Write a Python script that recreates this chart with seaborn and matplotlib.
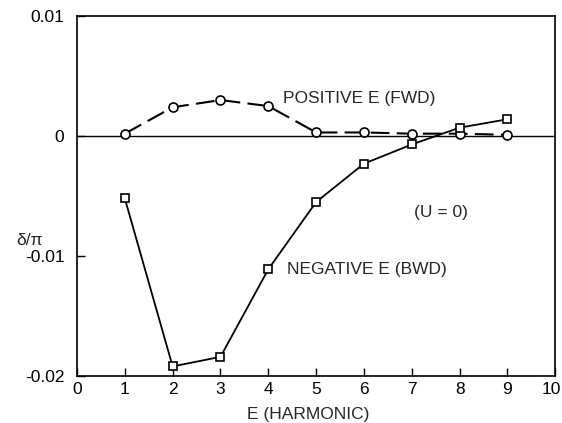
import numpy as np
import pandas as pd
import matplotlib
matplotlib.use("Agg")
import matplotlib.pyplot as plt
import matplotlib.transforms as mtransforms
import seaborn as sns

# harmonic number E
harmonic = [1, 2, 3, 4, 5, 6, 7, 8, 9]
# delta/pi for positive E (forward whirl)
positive_fwd = [0.0002, 0.0024, 0.0030, 0.0025, 0.0003, 0.0003, 0.0002, 0.0002, 0.0001]
# delta/pi for negative E (backward whirl)
negative_bwd = [-0.0052, -0.0192, -0.0184, -0.0111, -0.0055, -0.0023, -0.0007, 0.0007, 0.0014]

x_ticks = [0, 1, 2, 3, 4, 5, 6, 7, 8, 9, 10]
y_ticks = [-0.02, -0.01, 0, 0.01]
y_tick_labels = ['-0.02', '-0.01', '0', '0.01']

sns.set_style("ticks")
plt.rcParams['font.family'] = ['Liberation Sans', 'DejaVu Sans']

df_pos = pd.DataFrame({'E': harmonic, 'delta': positive_fwd})
df_neg = pd.DataFrame({'E': harmonic, 'delta': negative_bwd})

fig = plt.figure(figsize=(5.62, 4.23), dpi=100)
ax = fig.add_axes([0.137, 0.111, 0.851, 0.851])

ax.axhline(0, color='black', lw=1.0, zorder=1)

sns.lineplot(data=df_pos, x='E', y='delta', ax=ax, color='black', lw=1.5,
             marker='o', markersize=6.5, markerfacecolor='white',
             markeredgecolor='black', markeredgewidth=1.2,
             dashes=False, linestyle=(0, (9, 3.5)), zorder=3)
sns.lineplot(data=df_neg, x='E', y='delta', ax=ax, color='black', lw=1.3,
             marker='s', markersize=6, markerfacecolor='white',
             markeredgecolor='black', markeredgewidth=1.2, zorder=3)

ax.set_xlim(0, 10)
ax.set_ylim(-0.02, 0.01)
ax.set_xticks(x_ticks)
ax.set_yticks(y_ticks)
ax.set_yticklabels(y_tick_labels)
ax.tick_params(direction='in', length=6, width=1, labelsize=12.5, colors='black')
ax.tick_params(axis='x', top=False, pad=4)
ax.tick_params(axis='y', right=False, pad=9)
for s in ax.spines.values():
    s.set_visible(True)
    s.set_linewidth(1.2)
    s.set_color('black')

# nudge the last x label ("10") so it stays inside the figure
last = ax.get_xticklabels()[-1]
last.set_transform(last.get_transform() +
                   mtransforms.ScaledTranslation(-4 / 100, 0, fig.dpi_scale_trans))

ax.set_xlabel('E (HARMONIC)', fontsize=12.5)
ax.xaxis.set_label_coords(0.483, -0.085)
ax.set_ylabel('δ/π', fontsize=12.5, rotation=0)
ax.yaxis.set_label_coords(-0.1, 0.355)

ax.text(4.3, 0.0031, 'POSITIVE E (FWD)', fontsize=12.5, va='center', ha='left')
ax.text(4.4, -0.0111, 'NEGATIVE E (BWD)', fontsize=12.5, va='center', ha='left')
ax.text(7.6, -0.0064, '(U = 0)', fontsize=12.5, va='center', ha='center')

fig.savefig('out.png', dpi=100)
